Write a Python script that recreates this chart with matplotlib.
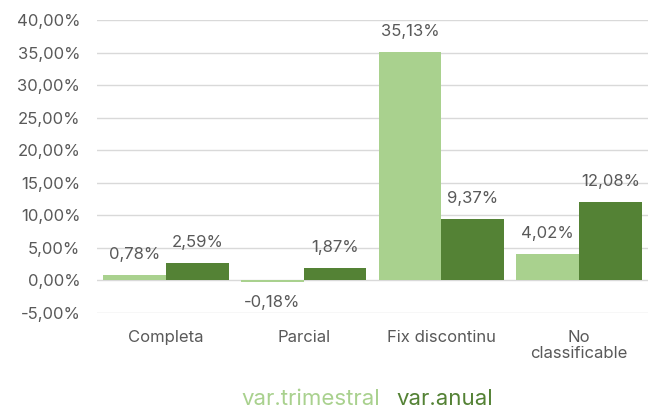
import numpy as np
import matplotlib.pyplot as plt
from matplotlib.ticker import FuncFormatter

categories = ["Completa", "Parcial", "Fix discontinu", "No\nclassificable"]
var_trimestral = [0.78, -0.18, 35.13, 4.02]
var_anual = [2.59, 1.87, 9.37, 12.08]

light = "#a9d18e"
dark = "#548235"
text_col = "#595959"

plt.rcParams['font.family'] = ['Inter', 'DejaVu Sans']

def pct(v):
    return f"{v:.2f}%".replace(".", ",")

fig = plt.figure(figsize=(6.59, 4.09), dpi=100)
ax = fig.add_axes([97 / 659, 0.235, 551 / 659, 0.716])

x = np.arange(len(categories))
w = 0.455
b1 = ax.bar(x - w / 2, var_trimestral, w, color=light, zorder=3)
b2 = ax.bar(x + w / 2, var_anual, w, color=dark, zorder=3)

for bars, vals in ((b1, var_trimestral), (b2, var_anual)):
    for rect, v in zip(bars, vals):
        cx = rect.get_x() + rect.get_width() / 2
        if v >= 0:
            ax.annotate(pct(v), (cx, v), xytext=(0, 9.5), textcoords="offset points",
                        ha="center", va="bottom", fontsize=12, color=text_col)
        else:
            ax.annotate(pct(v), (cx, v), xytext=(0, -10), textcoords="offset points",
                        ha="center", va="top", fontsize=12, color=text_col)

ax.set_ylim(-5, 40)
ax.set_yticks(np.arange(-5, 41, 5))
ax.yaxis.set_major_formatter(FuncFormatter(lambda v, p: pct(v)))
ax.set_xlim(-0.5, len(categories) - 0.5)
ax.set_xticks(x)
ax.set_xticklabels(categories, linespacing=1.1)
ax.tick_params(axis="both", length=0, labelsize=12, labelcolor=text_col)
ax.tick_params(axis="x", pad=12)
ax.tick_params(axis="y", pad=12)
ax.grid(axis="y", color="#d9d9d9", linewidth=1, zorder=0)
for s in ax.spines.values():
    s.set_visible(False)

fig.text(380 / 659, 0.009, "var.trimestral", color=light, fontsize=16, ha="right", va="baseline")
fig.text(396 / 659, 0.009, "var.anual", color=dark, fontsize=16, ha="left", va="baseline")

fig.savefig("out.png", dpi=100)
